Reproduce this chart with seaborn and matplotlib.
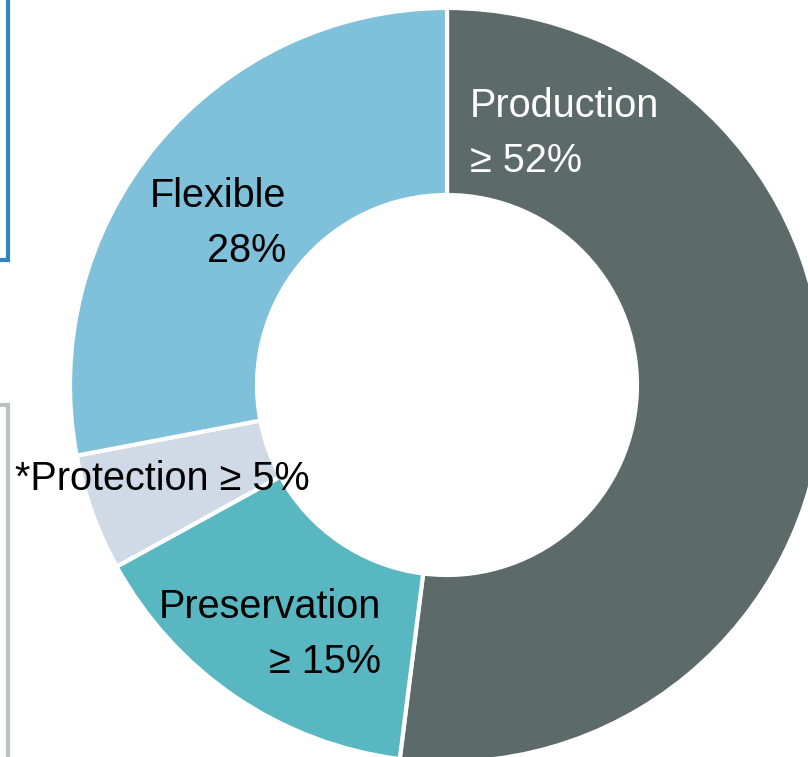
import matplotlib
matplotlib.use('Agg')
import matplotlib.pyplot as plt
import seaborn as sns

# land-use shares, clockwise from the top
categories = ['Production', 'Preservation', 'Protection', 'Flexible']
shares = [52, 15, 5, 28]
label_text = ['Production\n\u2265 52%', 'Preservation\n\u2265 15%',
              '*Protection \u2265 5%', 'Flexible\n28%']
colors = ['#5d6a6a', '#58b7c1', '#cfdae6', '#7fc0da']

W, H = 808, 757

sns.set_theme(style='white')
plt.rcParams['font.family'] = ['Liberation Sans', 'DejaVu Sans']

fig = plt.figure(figsize=(W / 100, H / 100), dpi=100)
ax = fig.add_axes([0, 0, 1, 1])

cx, cy, r = 447, H - 385, 377
ax.pie(shares, colors=colors, startangle=90, counterclock=False,
       center=(cx, cy), radius=r,
       wedgeprops=dict(width=187, edgecolor='white', linewidth=3))

# pie resets the limits, so set the pixel frame afterwards
ax.set_xlim(0, W)
ax.set_ylim(0, H)
ax.set_aspect('equal')
ax.axis('off')

fs = 28.5
ls = 1.58
# y is the baseline of the last line
ax.text(470, H - 172, label_text[0], color='white', fontsize=fs,
        ha='left', va='baseline', ma='left', linespacing=ls)
ax.text(381, H - 673, label_text[1], color='black', fontsize=fs,
        ha='right', va='baseline', ma='right', linespacing=ls)
ax.text(15, H - 490, label_text[2], color='black', fontsize=fs,
        ha='left', va='baseline')
ax.text(286, H - 262, label_text[3], color='black', fontsize=fs,
        ha='right', va='baseline', ma='right', linespacing=ls)

# frame edges of neighbouring panels
ax.plot([0, 8, 8], [H - 260, H - 260, H + 5], color='#2e86c8', lw=3,
        solid_joinstyle='miter')
ax.plot([0, 8, 8], [H - 405, H - 405, -5], color='#b8c3c1', lw=3,
        solid_joinstyle='miter')

fig.savefig('out.png', dpi=100)
